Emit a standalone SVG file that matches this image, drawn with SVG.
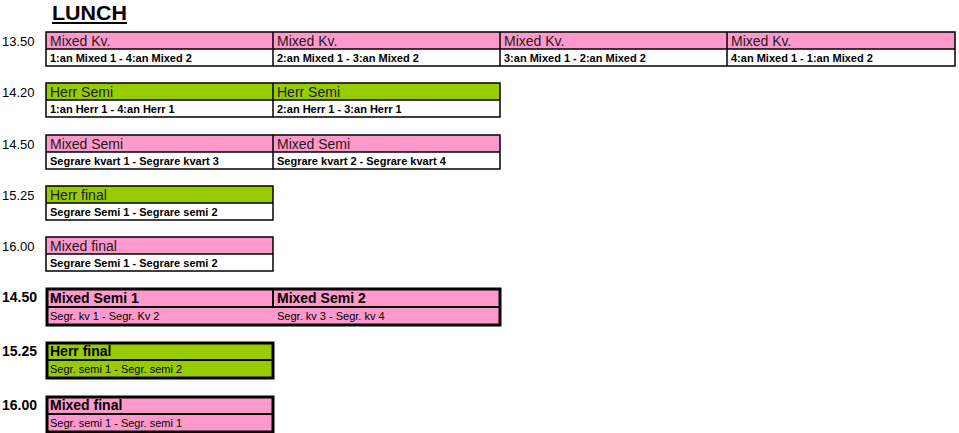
<svg xmlns="http://www.w3.org/2000/svg" width="959" height="433" viewBox="0 0 959 433">
<style>
  text { font-family: "Liberation Sans", Arial, sans-serif; fill: #000; }
  .time { font-size: 13px; }
  .timeb { font-size: 14px; font-weight: bold; }
  .hd { font-size: 14px; fill: #1a1a1a; }
  .hdb { font-size: 14px; font-weight: bold; fill: #000; }
  .sub { font-size: 11px; font-weight: bold; }
  .subr { font-size: 11px; }
  .pink { fill: #ff99cc; }
  .green { fill: #99cc00; }
  .white { fill: #ffffff; }
  .thin { fill: none; stroke: #000; stroke-width: 1.5; }
  .thinl { stroke: #000; stroke-width: 1.5; }
  .thick { fill: none; stroke: #000; stroke-width: 3; }
  .thickl { stroke: #000; stroke-width: 2; }
</style>
<rect width="959" height="433" fill="#ffffff"/>

<g id="title">
  <text x="52" y="20" font-size="21" font-weight="bold" textLength="75" lengthAdjust="spacingAndGlyphs">LUNCH</text>
  <rect x="52" y="22" width="75" height="2" fill="#000"/>
</g>

<!-- Row 13.50 -->
<g id="row-1350">
  <text class="time" x="2" y="46">13.50</text>
  <rect class="pink" x="46" y="32" width="909" height="17"/>
  <rect class="white" x="46" y="49" width="909" height="17"/>
  <rect class="thin" x="46" y="32" width="909" height="34"/>
  <line class="thinl" x1="46" y1="49" x2="955" y2="49"/>
  <line class="thinl" x1="273" y1="32" x2="273" y2="66"/>
  <line class="thinl" x1="500" y1="32" x2="500" y2="66"/>
  <line class="thinl" x1="727" y1="32" x2="727" y2="66"/>
  <text class="hd" x="50" y="46">Mixed Kv.</text>
  <text class="hd" x="277" y="46">Mixed Kv.</text>
  <text class="hd" x="504" y="46">Mixed Kv.</text>
  <text class="hd" x="731" y="46">Mixed Kv.</text>
  <text class="sub" x="50" y="62">1:an Mixed 1 - 4:an Mixed 2</text>
  <text class="sub" x="277" y="62">2:an Mixed 1 - 3:an Mixed 2</text>
  <text class="sub" x="504" y="62">3:an Mixed 1 - 2:an Mixed 2</text>
  <text class="sub" x="731" y="62">4:an Mixed 1 - 1:an Mixed 2</text>
</g>

<!-- Row 14.20 -->
<g id="row-1420">
  <text class="time" x="2" y="97">14.20</text>
  <rect class="green" x="46" y="83" width="454" height="17"/>
  <rect class="white" x="46" y="100" width="454" height="17"/>
  <rect class="thin" x="46" y="83" width="454" height="34"/>
  <line class="thinl" x1="46" y1="100" x2="500" y2="100"/>
  <line class="thinl" x1="273" y1="83" x2="273" y2="117"/>
  <text class="hd" x="50" y="97">Herr Semi</text>
  <text class="hd" x="277" y="97">Herr Semi</text>
  <text class="sub" x="50" y="113">1:an Herr 1 - 4:an Herr 1</text>
  <text class="sub" x="277" y="113">2:an Herr 1 - 3:an Herr 1</text>
</g>

<!-- Row 14.50 -->
<g id="row-1450">
  <text class="time" x="2" y="149">14.50</text>
  <rect class="pink" x="46" y="135" width="454" height="17"/>
  <rect class="white" x="46" y="152" width="454" height="17"/>
  <rect class="thin" x="46" y="135" width="454" height="34"/>
  <line class="thinl" x1="46" y1="152" x2="500" y2="152"/>
  <line class="thinl" x1="273" y1="135" x2="273" y2="169"/>
  <text class="hd" x="50" y="149">Mixed Semi</text>
  <text class="hd" x="277" y="149">Mixed Semi</text>
  <text class="sub" x="50" y="165">Segrare kvart 1 - Segrare kvart 3</text>
  <text class="sub" x="277" y="165">Segrare kvart 2 - Segrare kvart 4</text>
</g>

<!-- Row 15.25 -->
<g id="row-1525">
  <text class="time" x="2" y="200">15.25</text>
  <rect class="green" x="46" y="186" width="227" height="17"/>
  <rect class="white" x="46" y="203" width="227" height="17"/>
  <rect class="thin" x="46" y="186" width="227" height="34"/>
  <line class="thinl" x1="46" y1="203" x2="273" y2="203"/>
  <text class="hd" x="50" y="200">Herr final</text>
  <text class="sub" x="50" y="216">Segrare Semi 1 - Segrare semi 2</text>
</g>

<!-- Row 16.00 -->
<g id="row-1600">
  <text class="time" x="2" y="251">16.00</text>
  <rect class="pink" x="46" y="237" width="227" height="17"/>
  <rect class="white" x="46" y="254" width="227" height="17"/>
  <rect class="thin" x="46" y="237" width="227" height="34"/>
  <line class="thinl" x1="46" y1="254" x2="273" y2="254"/>
  <text class="hd" x="50" y="251">Mixed final</text>
  <text class="sub" x="50" y="267">Segrare Semi 1 - Segrare semi 2</text>
</g>

<!-- Bottom section -->
<g id="row-1450b">
  <text class="timeb" x="2" y="302">14.50</text>
  <rect class="pink" x="47" y="289" width="453" height="36"/>
  <rect class="thick" x="47" y="289" width="453" height="36"/>
  <line class="thickl" x1="47" y1="307" x2="500" y2="307"/>
  <line class="thickl" x1="273" y1="289" x2="273" y2="307"/>
  <text class="hdb" x="50" y="303">Mixed Semi 1</text>
  <text class="hdb" x="277" y="303">Mixed Semi 2</text>
  <text class="subr" x="50" y="320">Segr. kv 1 - Segr. Kv 2</text>
  <text class="subr" x="277" y="320">Segr. kv 3 - Segr. kv 4</text>
</g>

<g id="row-1525b">
  <text class="timeb" x="2" y="356">15.25</text>
  <rect class="green" x="47" y="343" width="226" height="35"/>
  <rect class="thick" x="47" y="343" width="226" height="35"/>
  <line class="thickl" x1="47" y1="360" x2="273" y2="360"/>
  <text class="hdb" x="50" y="356">Herr final</text>
  <text class="subr" x="50" y="373">Segr. semi 1 - Segr. semi 2</text>
</g>

<g id="row-1600b">
  <text class="timeb" x="2" y="410">16.00</text>
  <rect class="pink" x="47" y="397" width="226" height="35"/>
  <rect class="thick" x="47" y="397" width="226" height="35"/>
  <line class="thickl" x1="47" y1="414" x2="273" y2="414"/>
  <text class="hdb" x="50" y="410">Mixed final</text>
  <text class="subr" x="50" y="427">Segr. semi 1 - Segr. semi 1</text>
</g>
</svg>
